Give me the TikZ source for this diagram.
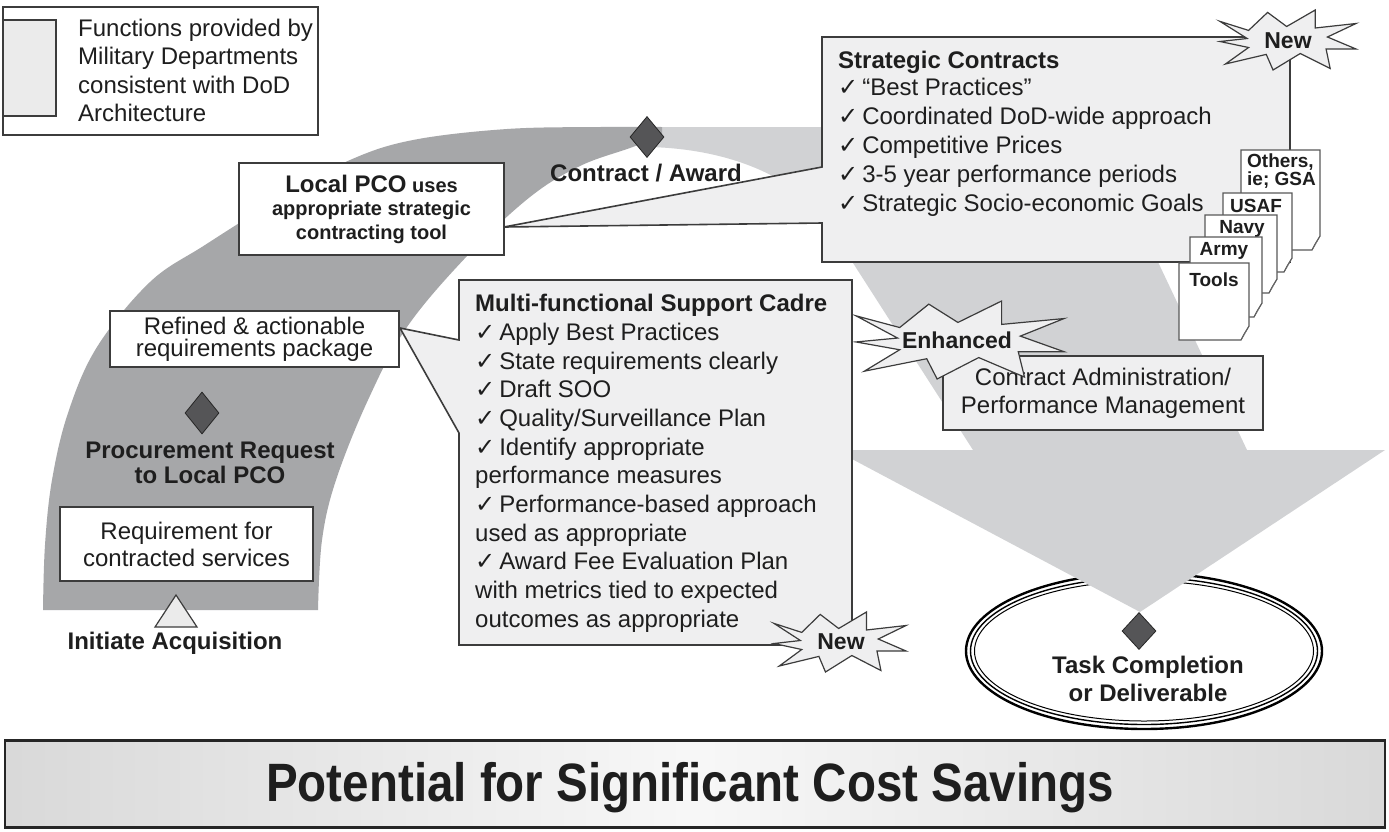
\documentclass[tikz,border=0pt]{standalone}
\usepackage{fontspec}
\setmainfont{Liberation Sans}
\newfontfamily\dejavu{DejaVu Sans}
\newfontfamily\bannerfont[FakeStretch=0.88]{Liberation Sans}
\usetikzlibrary{shapes.symbols,shapes.geometric}
\definecolor{darkarc}{RGB}{166,167,169}
\definecolor{lightarc}{RGB}{209,210,212}
\definecolor{boxfill}{RGB}{239,239,240}
\definecolor{linec}{RGB}{60,60,60}
\definecolor{txt}{RGB}{30,30,30}
\definecolor{diam}{RGB}{85,85,87}
\newcommand{\ck}{{\dejavu\fontsize{24}{24}\selectfont ✓}\hspace{4pt}}
\newcommand{\docpg}[4]{%
  \filldraw[docst] (#1,#2) -- (#3,#2) -- (#3,#4-14) -- (#3-8,#4) -- (#1,#4) -- cycle;
  \draw[docst,line width=0.8pt] (#3,#4-14) -- (#3-5,#4-6) -- (#3-8,#4);}
% burst outline: #1 centre x, #2 centre y, #3 half width, #4 half height
\newcommand{\burstshape}[4]{%
  \begin{scope}[shift={(#1,#2)}, xscale=#3, yscale=#4]
  \filldraw[burstst] (-1.00,-0.62) -- (-0.58,-0.32) -- (-0.30,-0.92) -- (-0.02,-0.45) -- (0.40,-1.00) -- (0.40,-0.40) -- (1.00,-0.55) -- (0.58,-0.10) -- (1.00,0.30) -- (0.56,0.30) -- (0.62,0.95) -- (0.18,0.45) -- (-0.22,1.00) -- (-0.32,0.48) -- (-0.92,0.80) -- (-0.58,0.25) -- (-1.00,0.05) -- (-0.60,-0.05) -- cycle;
  \end{scope}}
\begin{document}
\begin{tikzpicture}[x=1pt,y=-1pt, every node/.style={text=txt, inner sep=0pt}]
\tikzset{
 bx/.style={draw=linec, line width=1.6pt, fill=white, align=center},
 callout/.style={draw=linec, line width=1.6pt, fill=boxfill},
 dmd/.style={diamond, fill=diam, draw=black!85, line width=0.8pt, minimum width=34pt, minimum height=41pt},
 burstst/.style={draw=linec, fill=boxfill, line width=1.2pt, line join=miter},
 bursttxt/.style={font=\bfseries\fontsize{23}{23}\selectfont},
 docst/.style={draw=black!65, line width=1.1pt, fill=white},
 doctxt/.style={font=\bfseries\fontsize{19}{16}\selectfont, align=left},
 lbl/.style={font=\bfseries\fontsize{24}{25}\selectfont, align=center},
}
\useasboundingbox (0,0) rectangle (1389,831);
\fill[white] (0,0) rectangle (1389,831);

% legend
\draw[line width=1.5pt, draw=linec, fill=white] (3,7) rectangle (318,135);
\node[draw=linec, line width=2pt, fill=black!8, minimum width=53pt, minimum height=96pt, anchor=north west] (swatch) at (2,19) {};
\node[anchor=north west, align=left, font=\fontsize{24}{28.3}\selectfont] (legtxt) at (78,19) {Functions provided by\\Military Departments\\consistent with DoD\\Architecture};

% oval
\node[ellipse, draw=black, line width=2.4pt, fill=white, minimum width=356pt, minimum height=156pt] (oval) at (1144,651) {};
\draw[line width=1.4pt] (oval.center) ellipse [x radius=173.5pt, y radius=73.5pt];
\draw[line width=1pt] (oval.center) ellipse [x radius=169.5pt, y radius=70pt];

% light arc with arrowhead
\fill[lightarc] (973,450) -- (835,450) -- (1140,612) -- (1385,450) -- (1247,450) -- (1158,262)
  .. controls (1110,160) and (1000,127) .. (850,127) -- (630,127) -- (650,147)
  .. controls (760,150) and (830,200) .. (853,263) -- cycle;

% dark arc
\fill[darkarc] plot[smooth, tension=0.6] coordinates {(43,610) (45,545) (52,480) (68,413) (97,347) (150,282) (205,245) (280,198) (350,160) (413,140) (507,129) (600,127) (662,127)}
  -- plot[smooth, tension=0.6] coordinates {(662,136) (630,148) (580,166) (530,197) (468,255) (407,327) (368,400) (336,480) (322,540) (318,610)} -- cycle;

% contract / award
\node[dmd] (award) at (647,137) {};
\node[lbl] (awardlbl) at (646,173) {Contract / Award};

% left side boxes
\node[bx, minimum width=265pt, minimum height=92pt, font=\bfseries\fontsize{20}{23.5}\selectfont] (pco) at (371.5,209) {{\fontsize{24}{24}\selectfont Local PCO} uses\\appropriate strategic\\contracting tool};
\node[bx, minimum width=289pt, minimum height=56pt, font=\fontsize{24}{22}\selectfont] (refined) at (254.5,339) {Refined \& actionable\\requirements package};
\node[dmd, minimum height=42pt] (procd) at (202,413) {};
\node[lbl] (proclbl) at (210,463) {Procurement Request\\to Local PCO};
\node[bx, minimum width=253pt, minimum height=74pt, font=\fontsize{24}{27}\selectfont] (req) at (186.5,544) {Requirement for\\contracted services};
\filldraw[fill=black!8, draw=linec, line width=1.2pt] (176,595) -- (197,627) -- (155,627) -- cycle;
\node[lbl] (init) at (175,643) {Initiate Acquisition};

% strategic contracts callout
\coordinate (sctip) at (504,227);
\filldraw[callout] (822,37) -- (1290,37) -- (1290,262) -- (822,262) -- (822,223) -- (sctip) -- (822,167) -- cycle;
\node[anchor=north west, align=left, font=\fontsize{24}{29}\selectfont] (sctxt) at (838,51) {\textbf{Strategic Contracts}\\[-2pt]\ck “Best Practices”\\\ck Coordinated DoD-wide approach\\\ck Competitive Prices\\\ck 3-5 year performance periods\\\ck Strategic Socio-economic Goals};

% tool documents
\docpg{1241}{150}{1320}{250}
\node[doctxt, anchor=north west] (others) at (1247,154) {Others,\\ie; GSA};
\docpg{1223}{193}{1292}{272}
\node[doctxt] (usaf) at (1256,206) {USAF};
\docpg{1205}{215}{1277}{293}
\node[doctxt] (navy) at (1242,229) {Navy};
\docpg{1190}{237}{1262}{317}
\node[doctxt] (army) at (1224,251) {Army};
\docpg{1179}{263}{1249}{340}
\node[doctxt] (tools) at (1214,280) {Tools};

\burstshape{1288}{40}{68}{30}
\node[bursttxt] (new1) at (1288,41) {New};

% multi-functional callout
\coordinate (mftip) at (400,328);
\filldraw[callout] (459,280) -- (852,280) -- (852,645) -- (459,645) -- (459,433) -- (mftip) -- (459,340) -- cycle;
\node[anchor=north west, align=left, font=\fontsize{24}{28.7}\selectfont] (mftxt) at (475,294) {\textbf{Multi-functional Support Cadre}\\\ck Apply Best Practices\\\ck State requirements clearly\\\ck Draft SOO\\\ck Quality/Surveillance Plan\\\ck Identify appropriate\\performance measures\\\ck Performance-based approach\\used as appropriate\\\ck Award Fee Evaluation Plan\\with metrics tied to expected\\outcomes as appropriate};
\burstshape{840}{642}{66}{30}
\node[bursttxt] (new2) at (841,642) {New};

% contract administration
\node[bx, fill=boxfill, minimum width=320pt, minimum height=74pt, font=\fontsize{24}{28}\selectfont] (cadm) at (1103,393) {Contract Administration/\\Performance Management};
\burstshape{960}{340}{104}{39}
\node[bursttxt] (enh) at (957,340) {Enhanced};

% task completion
\node[dmd, minimum height=37pt] (taskd) at (1139,631) {};
\node[lbl, font=\bfseries\fontsize{24}{28}\selectfont] (tasklbl) at (1148,679) {Task Completion\\or Deliverable};

% banner
\node[draw=black!85, line width=1.6pt, left color=black!15, right color=black!15, middle color=black!3, minimum width=1380pt, minimum height=86pt] (banner) at (695,784) {};
\draw[line width=3pt, draw=black!85] (banner.north west) -- (banner.north east);
\draw[line width=3pt, draw=black!85] (banner.south west) -- (banner.south east);
\node[font=\bannerfont\bfseries\fontsize{54}{54}\selectfont] (bannertxt) at (690,788) {Potential for Significant Cost Savings};
\end{tikzpicture}
\end{document}
